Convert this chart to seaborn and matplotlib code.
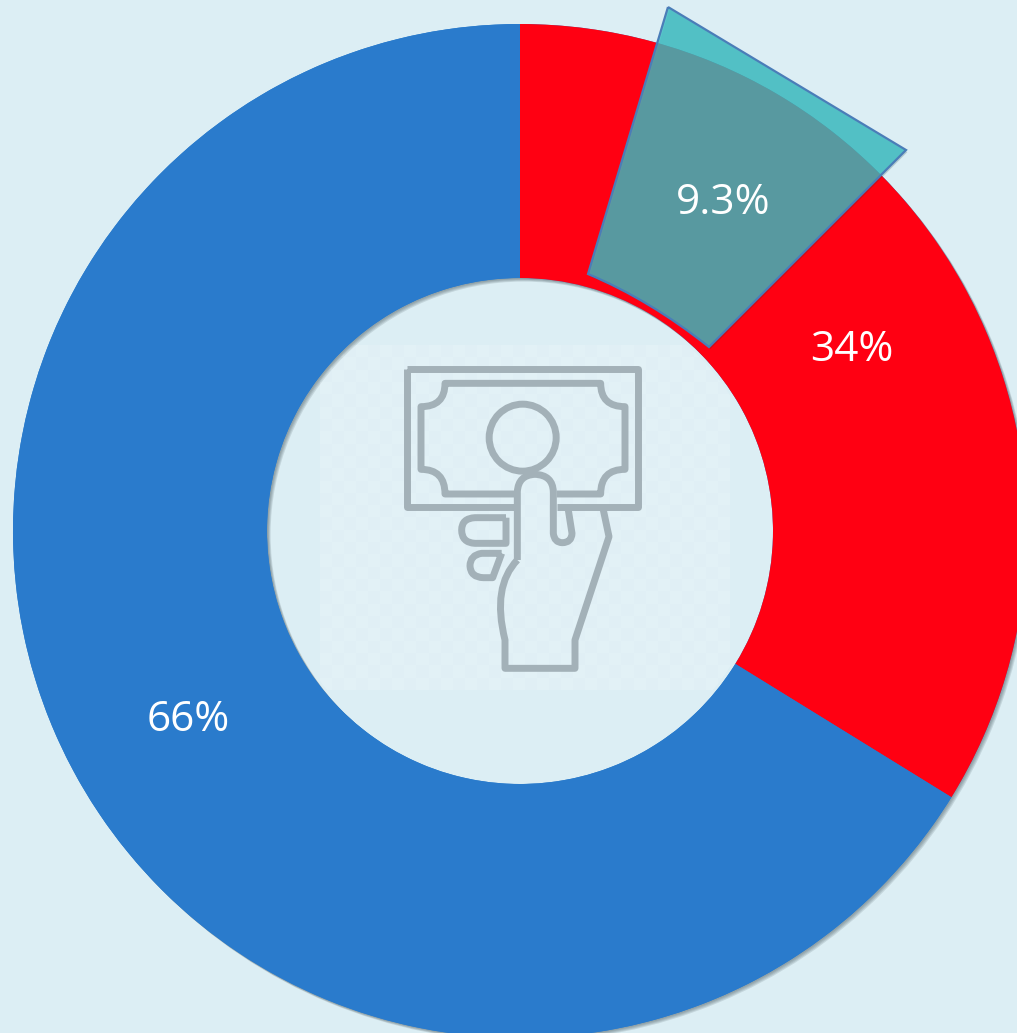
"""
Donut chart with a highlighted 9.3% callout and a banknote icon in the hole.
"""

import numpy as np
import matplotlib
matplotlib.use("Agg")
import matplotlib.pyplot as plt
import matplotlib.patheffects as pe
from matplotlib.patches import Circle, PathPatch, Wedge
from matplotlib.path import Path
import seaborn as sns

# ── Data ─────────────────────────────────────────────────────────────
shares = [33.8, 66.2]
share_colors = ["#FF0012", "#2A7BCC"]
callout_label = "9.3%"

BG = "#DCEEF4"
ICON = "#A3B1B8"
W, H = 1017, 1033

sns.set_theme(style="white")
plt.rcParams["font.family"] = ["Open Sans", "DejaVu Sans"]


def py(y):
    # picture y (top-down) -> axes y
    return H - y


def zoomed(x, y):
    # icon was traced on a 3x crop starting at (310, 340)
    return 310 + x / 3, py(340 + y / 3)


def shape(ax, cmds):
    verts, codes = [], []
    for code, pts in cmds:
        for p in pts:
            verts.append(zoomed(*p))
            codes.append(code)
    ax.add_patch(PathPatch(Path(verts, codes), fill=False, edgecolor=ICON,
                           lw=5, joinstyle="round", zorder=1.5))


M, L, C = Path.MOVETO, Path.LINETO, Path.CURVE3

fig = plt.figure(figsize=(W / 100, H / 100), dpi=100, facecolor=BG)
ax = fig.add_axes([0, 0, 1, 1])
ax.set_facecolor(BG)

cx, cy, R = 520, py(531), 507
wedges, _, autotexts = ax.pie(
    shares, colors=share_colors, startangle=90, counterclock=False,
    center=(cx, cy), radius=R, autopct="%.0f%%", pctdistance=0.75,
    wedgeprops={"width": R - 253, "linewidth": 0},
    textprops={"color": "white", "fontsize": 30.5},
)
for t in autotexts:
    x, y = t.get_position()
    t.set_position((x, y - 4))

# soft drop shadow: one ring under both wedges so neither shades the other
ring = Wedge((cx, cy), R, 0, 360, width=R - 253, facecolor="#2A7BCC", linewidth=0, zorder=0.5)
ring.set_path_effects([
    pe.SimplePatchShadow(offset=(o, -o), shadow_rgbFace="#4A5A62", alpha=0.16)
    for o in (2.6, 2.0, 1.4, 0.8)
] + [pe.Normal()])
ax.add_patch(ring)

# faint checker tile behind the icon, clipped to the hole
yy, xx = np.indices((28, 34))
tile = ((xx + yy) % 2).astype(float)
rgba = np.ones(tile.shape + (4,))
rgba[..., 3] = 0.12 + 0.08 * tile
im = ax.imshow(rgba, extent=(320, 730, py(690), py(345)), zorder=1.1)
im.set_clip_path(Circle((cx, cy), 250, transform=ax.transData))

# banknote
shape(ax, [(M, [(292, 88)]), (L, [(985, 88), (985, 500), (740, 500)]),
           (M, [(612, 500)]), (L, [(292, 500), (292, 88)])])
shape(ax, [(M, [(612, 462)]), (L, [(405, 462)]), (C, [(405, 388), (333, 388)]),
           (L, [(333, 200)]), (C, [(405, 200), (405, 130)]), (L, [(872, 130)]),
           (C, [(872, 200), (945, 200)]), (L, [(945, 388)]),
           (C, [(872, 388), (872, 462)]), (L, [(740, 462)])])
ax.add_patch(Circle(zoomed(638, 293), 33.5, fill=False, edgecolor=ICON, lw=5, zorder=1.5))

# hand
shape(ax, [(M, [(622, 660)]), (L, [(622, 455)]), (C, [(625, 405), (675, 403)]),
           (C, [(728, 405), (730, 455)]), (L, [(730, 580)]), (C, [(733, 608), (757, 608)]),
           (C, [(785, 608), (786, 580)]), (L, [(775, 510)])])
shape(ax, [(M, [(880, 510)]), (L, [(897, 590), (795, 900), (795, 985), (585, 985), (585, 900)]),
           (C, [(545, 740), (622, 660)])])
shape(ax, [(M, [(588, 533)]), (L, [(495, 533)]), (C, [(455, 535), (455, 570)]),
           (C, [(455, 608), (495, 610)]), (L, [(588, 610), (588, 533)])])
shape(ax, [(M, [(575, 640)]), (L, [(515, 640)]), (C, [(480, 645), (480, 678)]),
           (C, [(482, 712), (520, 713)]), (L, [(548, 713), (575, 640)])])

# highlighted callout over the ring
corners = [(668, 7), (906, 150), (709, 347), (650, 300), (588, 274), (668, 7)]
verts = [(x, py(y)) for x, y in corners]
callout = PathPatch(
    Path(verts, [M, L, L, C, C, L]),
    facecolor=(58 / 255, 190 / 255, 195 / 255, 0.8),
    edgecolor="#4A7DB8", lw=1.6, zorder=2,
    path_effects=[pe.SimplePatchShadow(offset=(1, -1.5), alpha=0.2), pe.Normal()],
)
ax.add_patch(callout)
ax.text(723, py(203), callout_label, color="white", fontsize=30.5,
        ha="center", va="center", zorder=3)

ax.set_xlim(0, W)
ax.set_ylim(0, H)
ax.set_aspect("auto")
ax.axis("off")
fig.savefig("out.png", dpi=100, facecolor=BG)
